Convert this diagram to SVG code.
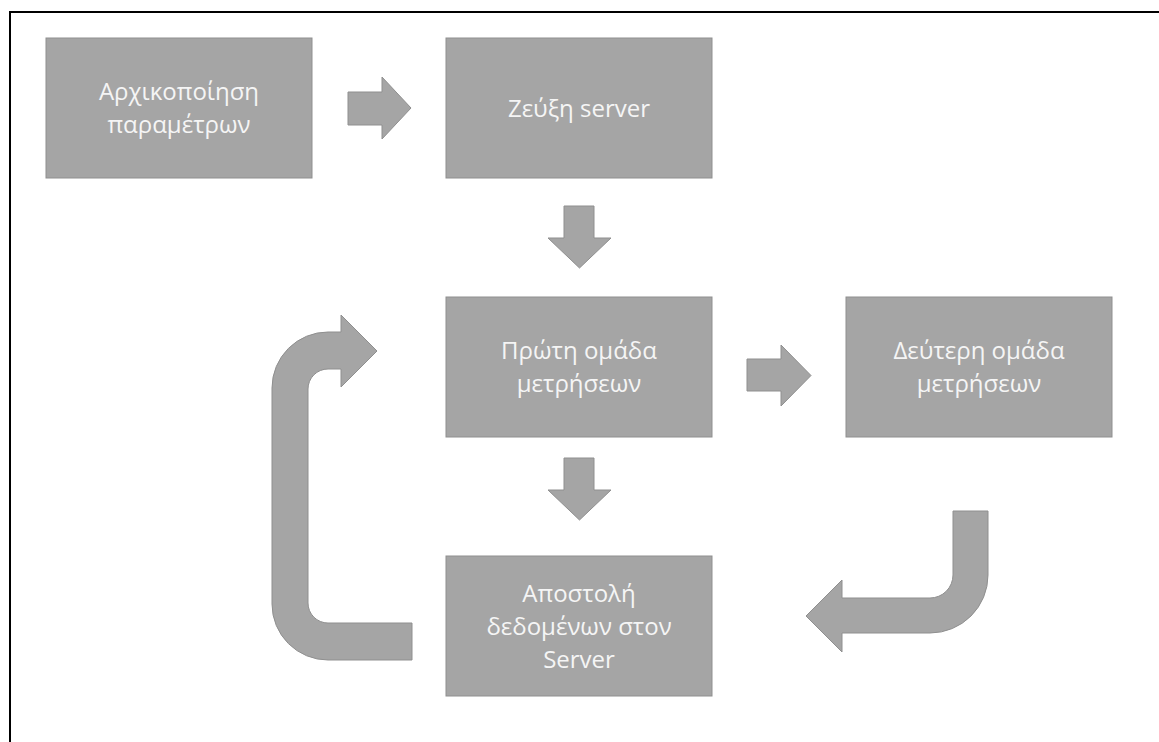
<svg xmlns="http://www.w3.org/2000/svg" width="1159" height="742" viewBox="0 0 1159 742">
<style>
.box{fill:#a5a5a5;stroke:#8f8f8f;stroke-width:1}
.arr{fill:#a5a5a5;stroke:#8f8f8f;stroke-width:1;stroke-linejoin:miter}
.lbl{font-family:"Open Sans","Noto Sans","DejaVu Sans",sans-serif;font-size:24px;fill:#f5f5f5;text-anchor:middle}
</style>
<rect x="0" y="0" width="1159" height="742" fill="#ffffff"/>
<rect x="10" y="12" width="1200" height="800" fill="none" stroke="#000000" stroke-width="2"/>
<g id="n1">
<rect class="box" x="46" y="38" width="266" height="140"/>
<text class="lbl" x="179" y="100">Αρχικοποίηση</text>
<text class="lbl" x="179" y="133">παραμέτρων</text>
</g>
<g id="n2">
<rect class="box" x="446" y="38" width="266" height="140"/>
<text class="lbl" x="579" y="117">Ζεύξη server</text>
</g>
<g id="n3">
<rect class="box" x="446" y="297" width="266" height="140"/>
<text class="lbl" x="579" y="359">Πρώτη ομάδα</text>
<text class="lbl" x="579" y="392">μετρήσεων</text>
</g>
<g id="n4">
<rect class="box" x="846" y="297" width="266" height="140"/>
<text class="lbl" x="979" y="359">Δεύτερη ομάδα</text>
<text class="lbl" x="979" y="392">μετρήσεων</text>
</g>
<g id="n5">
<rect class="box" x="446" y="556" width="266" height="140"/>
<text class="lbl" x="579" y="602">Αποστολή</text>
<text class="lbl" x="579" y="635">δεδομένων στον</text>
<text class="lbl" x="579" y="668">Server</text>
</g>
<g id="connectors">
<path class="arr" d="M348 92 L382 92 L382 77 L411 108 L382 139 L382 125 L348 125 Z"/>
<path class="arr" d="M564 206 L594 206 L594 238 L611 238 L579.5 268 L548 238 L564 238 Z"/>
<path class="arr" d="M747 359 L781 359 L781 345 L811 375.5 L781 406 L781 391 L747 391 Z"/>
<path class="arr" d="M564 458 L594 458 L594 490 L611 490 L579.5 520 L548 490 L564 490 Z"/>
<path class="arr" d="M988 511 L988 575 A58 58 0 0 1 930 633 L842 633 L842 652 L806 616 L842 580 L842 598 L930 598 A23 23 0 0 0 953 575 L953 511 Z"/>
<path class="arr" d="M412 660 L328 660 A56 56 0 0 1 272 604 L272 388 A56 56 0 0 1 328 332 L341 332 L341 315 L377 351 L341 387 L341 369 L328 369 A20 20 0 0 0 308 389 L308 603 A20 20 0 0 0 328 623 L412 623 Z"/>
</g>
</svg>
